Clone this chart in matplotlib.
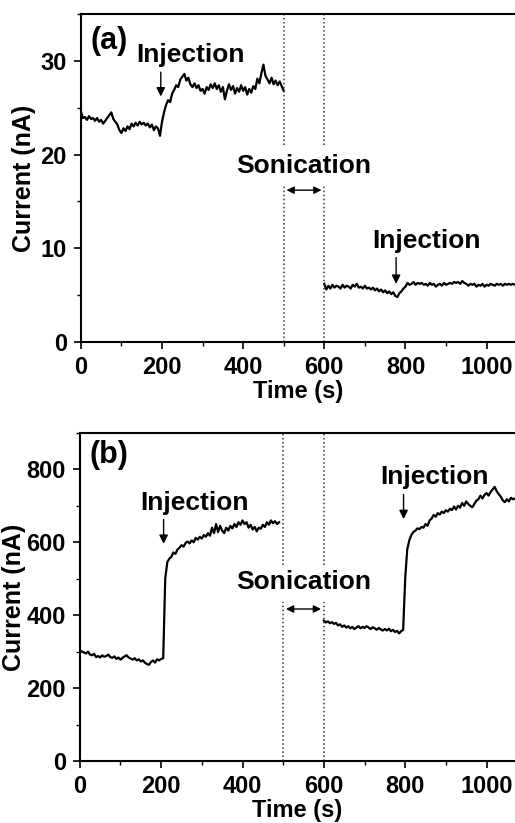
import numpy as np
import matplotlib.pyplot as plt
from matplotlib.ticker import MultipleLocator

plt.rcParams['font.family'] = ['Liberation Sans', 'DejaVu Sans']
plt.rcParams['font.weight'] = 'bold'

# panel (a): current in nA, sampled every 5 s
a_before = [24.6, 23.9, 24.0, 23.7, 24.1, 23.8, 23.9, 23.6, 23.9, 23.5, 23.7, 23.3, 23.6, 23.9, 24.2,
            24.5, 23.8, 23.5, 23.2, 22.6, 22.3, 22.8, 22.5, 23.0, 22.7, 23.3, 23.0, 23.4, 23.1, 23.5,
            23.2, 23.4, 23.1, 23.3, 22.9, 23.2, 22.6, 23.0, 22.8, 22.0, 23.5, 24.5, 25.3, 25.8, 25.6,
            26.5, 26.9, 27.4, 27.2, 28.0, 28.3, 28.6, 27.9, 28.2, 27.5, 27.2, 27.6, 27.1, 27.4, 26.8,
            27.0, 26.5, 27.2, 26.9, 27.5, 27.1, 27.6, 27.0, 27.4, 26.7, 27.2, 25.9, 26.8, 27.5, 26.9,
            27.3, 26.5, 27.1, 26.7, 27.4, 26.8, 27.2, 26.4, 27.0, 26.6, 27.3, 27.0, 28.1, 27.6, 28.7,
            29.6, 28.4, 28.0, 27.6, 28.2, 27.5, 27.9, 27.4, 27.8, 27.3, 26.8]
a_after = [6.2, 5.6, 6.0, 5.7, 6.1, 5.8, 6.0, 5.9, 5.7, 6.1, 5.8, 6.0, 5.9, 5.7, 6.1, 5.9, 6.2, 5.8,
           5.9, 5.7, 6.0, 5.7, 5.8, 5.6, 5.8, 5.5, 5.7, 5.4, 5.6, 5.3, 5.5, 5.2, 5.4, 5.1, 5.3, 4.9,
           4.8, 5.2, 5.4, 5.7, 5.9, 6.3, 6.1, 6.2, 6.4, 6.1, 6.3, 6.2, 6.3, 6.1, 6.2, 6.0, 6.3, 6.1,
           6.2, 5.9, 6.1, 6.2, 6.0, 6.3, 6.1, 6.2, 6.3, 6.2, 6.4, 6.3, 6.4, 6.2, 6.5, 6.3, 6.2, 6.0,
           6.2, 6.1, 6.2, 5.9, 6.1, 6.0, 6.2, 5.9, 6.1, 6.0, 6.2, 6.1, 6.0, 6.2, 6.1, 6.2, 6.0, 6.2,
           6.1, 6.2, 6.1, 6.2, 6.1]

# panel (b)
b_before = [305, 300, 298, 295, 300, 292, 290, 294, 285, 288, 284, 290, 286, 288, 292, 285, 283, 287,
            280, 284, 278, 283, 287, 290, 284, 281, 278, 282, 276, 279, 273, 276, 270, 266, 264, 272,
            276, 270, 279, 276, 280, 282, 500, 545, 555, 560, 572, 568, 580, 585, 592, 588, 598, 602,
            597, 605, 600, 612, 607, 615, 610, 620, 615, 625, 618, 640, 625, 650, 628, 645, 632, 625,
            640, 632, 645, 638, 650, 642, 655, 648, 660, 650, 655, 640, 648, 635, 642, 630, 640, 637,
            648, 642, 655, 648, 660, 652, 658, 650, 655]
b_after = [385, 380, 383, 378, 381, 376, 379, 372, 375, 368, 372, 366, 370, 364, 368, 362, 366, 370,
           364, 368, 365, 370, 366, 362, 367, 364, 360, 365, 361, 358, 362, 358, 363, 356, 360, 354,
           357, 350, 356, 360, 500, 580, 605, 620, 628, 632, 638, 636, 642, 640, 650, 645, 660, 665,
           675, 670, 680, 676, 684, 680, 688, 684, 692, 688, 698, 690, 700, 695, 708, 700, 712, 705,
           700, 696, 705, 714, 718, 728, 720, 730, 735, 728, 738, 745, 752, 740, 732, 725, 715, 710,
           718, 712, 722, 718, 720]

t_before_a = np.arange(len(a_before)) * 5
t_after_a = 600 + np.arange(len(a_after)) * 5
t_before_b = np.arange(len(b_before)) * 5
t_after_b = 600 + np.arange(len(b_after)) * 5

fig = plt.figure(figsize=(5.15, 8.23), dpi=100)
ax1 = fig.add_axes([0.157, 0.5845, 0.843, 0.3985])
ax2 = fig.add_axes([0.155, 0.0753, 0.845, 0.3987])

arrow1 = dict(arrowstyle='-|>', color='k', lw=1, mutation_scale=13)
arrow2 = dict(arrowstyle='<|-|>', color='k', lw=1, mutation_scale=11)


def style(ax, ymax, major, minor, ypad):
    ax.set_xlim(0, 1070)
    ax.set_ylim(0, ymax)
    ax.xaxis.set_major_locator(MultipleLocator(200))
    ax.xaxis.set_minor_locator(MultipleLocator(100))
    ax.yaxis.set_major_locator(MultipleLocator(major))
    ax.yaxis.set_minor_locator(MultipleLocator(minor))
    ax.spines['right'].set_visible(False)
    for s in ['left', 'bottom', 'top']:
        ax.spines[s].set_linewidth(1.5)
    ax.tick_params(which='major', direction='out', length=5, width=1.2, labelsize=17, pad=5)
    ax.tick_params(which='minor', direction='out', length=3, width=1.0)
    ax.set_xlabel('Time (s)', fontsize=17, fontweight='bold', labelpad=1)
    ax.set_ylabel('Current (nA)', fontsize=18, fontweight='bold', labelpad=ypad)


# (a)
ax1.plot(t_before_a, a_before, color='k', lw=1.6)
ax1.plot(t_after_a, a_after, color='k', lw=1.6)
style(ax1, 35, 10, 5, 3)
for x in [500, 600]:
    ax1.plot([x, x], [21.0, 35], ls=':', color='#333333', lw=1.1)
    ax1.plot([x, x], [0, 16.6], ls=':', color='#333333', lw=1.1)
ax1.text(25, 32.1, '(a)', fontsize=22, fontweight='bold', va='center')
ax1.text(271, 30.6, 'Injection', fontsize=19, fontweight='bold', ha='center', va='center')
ax1.annotate('', xy=(197, 25.9), xytext=(197, 29.1), arrowprops=arrow1)
ax1.text(549, 18.8, 'Sonication', fontsize=19, fontweight='bold', ha='center', va='center')
ax1.annotate('', xy=(500, 16.2), xytext=(600, 16.2), arrowprops=arrow2)
ax1.text(852, 10.8, 'Injection', fontsize=19, fontweight='bold', ha='center', va='center')
ax1.annotate('', xy=(777, 5.9), xytext=(777, 9.3), arrowprops=arrow1)

# (b)
ax2.plot(t_before_b, b_before, color='k', lw=1.6)
ax2.plot(t_after_b, b_after, color='k', lw=1.6)
style(ax2, 900, 200, 100, 0)
for x in [500, 600]:
    ax2.plot([x, x], [538, 900], ls=':', color='#333333', lw=1.1)
    ax2.plot([x, x], [0, 437], ls=':', color='#333333', lw=1.1)
ax2.text(23, 839, '(b)', fontsize=22, fontweight='bold', va='center')
ax2.text(283, 707, 'Injection', fontsize=19, fontweight='bold', ha='center', va='center')
ax2.annotate('', xy=(206, 588), xytext=(206, 670), arrowprops=arrow1)
ax2.text(550, 492, 'Sonication', fontsize=19, fontweight='bold', ha='center', va='center')
ax2.annotate('', xy=(500, 417), xytext=(600, 417), arrowprops=arrow2)
ax2.text(872, 779, 'Injection', fontsize=19, fontweight='bold', ha='center', va='center')
ax2.annotate('', xy=(796, 656), xytext=(796, 739), arrowprops=arrow1)

plt.savefig('out.png', dpi=100)
